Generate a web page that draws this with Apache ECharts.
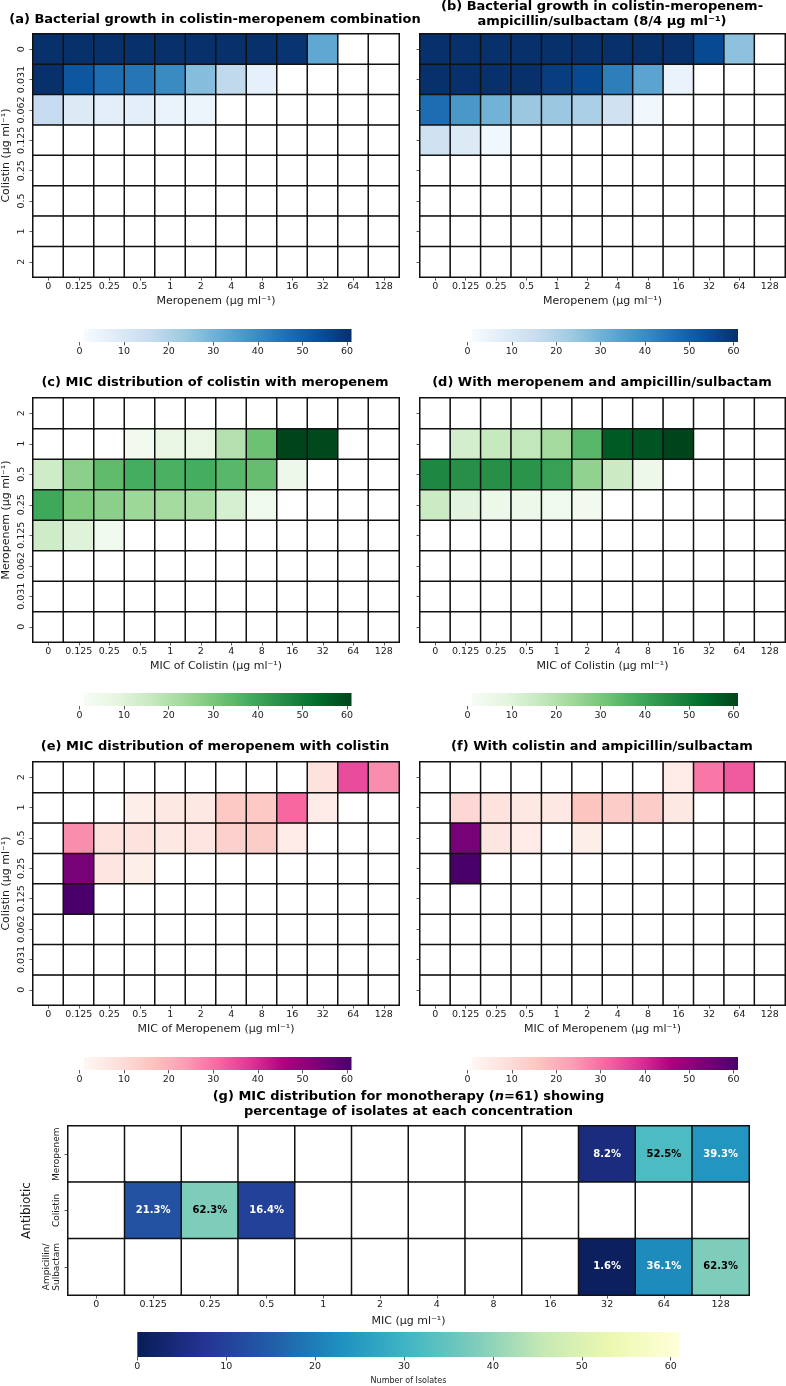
<!DOCTYPE html>
<html>
<head>
<meta charset="utf-8">
<script src="https://cdn.jsdelivr.net/npm/echarts@6/dist/echarts.min.js"></script>
<style>
html,body{margin:0;padding:0;background:#fff;}
#chart{width:786px;height:1386px;}
</style>
</head>
<body>
<div id="chart"></div>
<script>
// ---------------- DATA ----------------
const X_CONC = ['0','0.125','0.25','0.5','1','2','4','8','16','32','64','128'];
const Y_CONC = ['0','0.031','0.062','0.125','0.25','0.5','1','2'];
const ANTIBIOTICS = ['Meropenem','Colistin','Ampicillin/\nSulbactam'];
const CBAR_TICKS = [0,10,20,30,40,50,60];
const N_ISOLATES = 61;

// rows follow Y_CONC order, columns follow X_CONC order
const growthA = [
  [61,61,61,61,61,61,61,61,60,33,0,0],
  [61,52,47,45,40,27,17,6,0,0,0,0],
  [16,9,7,7,5,4,0,0,0,0,0,0],
  [0,0,0,0,0,0,0,0,0,0,0,0],
  [0,0,0,0,0,0,0,0,0,0,0,0],
  [0,0,0,0,0,0,0,0,0,0,0,0],
  [0,0,0,0,0,0,0,0,0,0,0,0],
  [0,0,0,0,0,0,0,0,0,0,0,0]
];
const growthB = [
  [61,61,61,61,61,61,61,61,61,55,26,0],
  [61,61,61,61,58,55,43,34,5,0,0,0],
  [47,37,30,24,24,21,13,3,0,0,0,0],
  [13,9,3,0,0,0,0,0,0,0,0,0],
  [0,0,0,0,0,0,0,0,0,0,0,0],
  [0,0,0,0,0,0,0,0,0,0,0,0],
  [0,0,0,0,0,0,0,0,0,0,0,0],
  [0,0,0,0,0,0,0,0,0,0,0,0]
];
const micColMeroC = [
  [0,0,0,0,0,0,0,0,0,0,0,0],
  [0,0,0,0,0,0,0,0,0,0,0,0],
  [0,0,0,0,0,0,0,0,0,0,0,0],
  [14,10,4,0,0,0,0,0,0,0,0,0],
  [39,29,27,24,23,21,12,4,0,0,0,0],
  [14,27,34,38,37,38,35,33,5,0,0,0],
  [0,0,0,3,7,7,20,32,61,60,0,0],
  [0,0,0,0,0,0,0,0,0,0,0,0]
];
const micColMeroAmpD = [
  [0,0,0,0,0,0,0,0,0,0,0,0],
  [0,0,0,0,0,0,0,0,0,0,0,0],
  [0,0,0,0,0,0,0,0,0,0,0,0],
  [0,0,0,0,0,0,0,0,0,0,0,0],
  [15,9,5,5,4,3,0,0,0,0,0,0],
  [47,45,45,44,41,26,15,5,0,0,0,0],
  [0,13,16,17,23,35,57,58,61,0,0,0],
  [0,0,0,0,0,0,0,0,0,0,0,0]
];
const micMeroColE = [
  [0,0,0,0,0,0,0,0,0,0,0,0],
  [0,0,0,0,0,0,0,0,0,0,0,0],
  [0,0,0,0,0,0,0,0,0,0,0,0],
  [0,61,0,0,0,0,0,0,0,0,0,0],
  [0,54,7,4,0,0,0,0,0,0,0,0],
  [0,26,8,8,6,7,13,14,5,0,0,0],
  [0,0,0,4,6,6,15,15,31,5,0,0],
  [0,0,0,0,0,0,0,0,0,8,35,26]
];
const micMeroColAmpF = [
  [0,0,0,0,0,0,0,0,0,0,0,0],
  [0,0,0,0,0,0,0,0,0,0,0,0],
  [0,0,0,0,0,0,0,0,0,0,0,0],
  [0,0,0,0,0,0,0,0,0,0,0,0],
  [0,61,0,0,0,0,0,0,0,0,0,0],
  [0,54,7,5,0,4,0,0,0,0,0,0],
  [0,11,8,6,6,16,14,14,6,0,0,0],
  [0,0,0,0,0,0,0,0,5,29,33,0]
];
// rows follow ANTIBIOTICS order
const monoMeropenem = [0,0,0,0,0,0,0,0,0,5,32,24];
const monoColistin  = [0,13,38,10,0,0,0,0,0,0,0,0];
const monoAmpSul    = [0,0,0,0,0,0,0,0,0,1,22,38];

// ---------------- STYLE ----------------
const BLUES = ['#f7fbff','#deebf7','#c6dbef','#9ecae1','#6baed6','#4292c6','#2171b5','#08519c','#08306b'];
const GREENS = ['#f7fcf5','#e5f5e0','#c7e9c0','#a1d99b','#74c476','#41ab5d','#238b45','#006d2c','#00441b'];
const RDPU = ['#fff7f3','#fde0dd','#fcc5c0','#fa9fb5','#f768a1','#dd3497','#ae017e','#7a0177','#49006a'];
const YLGNBU_R = ['#081d58','#253494','#225ea8','#1d91c0','#41b6c4','#7fcdbb','#c7e9b4','#edf8b1','#ffffd9'];

const FONT = 'DejaVu Sans';
const TXT = '#1a1a1a';
const TICK_FS = 9.5;
const NAME_FS = 11;

function toCells(mat){
  const out = [];
  mat.forEach((row, r) => row.forEach((v, c) => out.push([c, r, v])));
  return out;
}

const panels = [
  {grid:{left:33, top:34, width:366, height:243}, data:growthA, cmap:BLUES, inverse:true, yLabels:true, yName:'Colistin (µg ml⁻¹)', xName:'Meropenem (µg ml⁻¹)', cbar:{left:79.5, top:329}},
  {grid:{left:420, top:34, width:365, height:243}, data:growthB, cmap:BLUES, inverse:true, yLabels:false, yName:'', xName:'Meropenem (µg ml⁻¹)', cbar:{left:467.5, top:329}},
  {grid:{left:33, top:398, width:366, height:244}, data:micColMeroC, cmap:GREENS, inverse:false, yLabels:true, yName:'Meropenem (µg ml⁻¹)', xName:'MIC of Colistin (µg ml⁻¹)', cbar:{left:79.5, top:693}},
  {grid:{left:420, top:398, width:365, height:244}, data:micColMeroAmpD, cmap:GREENS, inverse:false, yLabels:false, yName:'', xName:'MIC of Colistin (µg ml⁻¹)', cbar:{left:467.5, top:693}},
  {grid:{left:33, top:762, width:366, height:243}, data:micMeroColE, cmap:RDPU, inverse:false, yLabels:true, yName:'Colistin (µg ml⁻¹)', xName:'MIC of Meropenem (µg ml⁻¹)', cbar:{left:79.5, top:1057}},
  {grid:{left:420, top:762, width:365, height:243}, data:micMeroColAmpF, cmap:RDPU, inverse:false, yLabels:false, yName:'', xName:'MIC of Meropenem (µg ml⁻¹)', cbar:{left:467.5, top:1057}}
];

const grids = [], xAxes = [], yAxes = [], series = [], visualMaps = [];

function heatAxes(p, xCats, yCats){
  const idx = grids.length;
  grids.push(Object.assign({containLabel:false}, p.grid));
  xAxes.push({
    type:'category', gridIndex:idx, data:xCats, position:'bottom',
    axisLine:{show:false}, splitLine:{show:false},
    axisTick:{show:true, interval:0, alignWithLabel:true, length:3.5, lineStyle:{color:'#333', width:0.8}},
    axisLabel:{interval:0, fontFamily:FONT, fontSize:TICK_FS, color:TXT, margin:5},
    name:p.xName, nameLocation:'middle', nameGap:p.xGap || 19,
    nameTextStyle:{fontFamily:FONT, fontSize:NAME_FS, color:TXT}
  });
  yAxes.push({
    type:'category', gridIndex:idx, data:yCats, inverse:p.inverse,
    axisLine:{show:false}, splitLine:{show:false},
    axisTick:{show:true, interval:0, alignWithLabel:true, length:3.5, lineStyle:{color:'#333', width:0.8}},
    axisLabel:{show:p.yLabels, interval:0, rotate:90, fontFamily:FONT, fontSize:p.yTickFs || TICK_FS, color:TXT, margin:p.yMargin || 6, lineHeight:10.5, align:'center', verticalAlign:'bottom'},
    name:p.yName, nameLocation:'middle', nameGap:p.yGap || 21, nameRotate:90,
    nameTextStyle:{fontFamily:FONT, fontSize:p.yNameSize || NAME_FS, color:TXT}
  });
  return idx;
}

panels.forEach((p, i) => {
  const idx = heatAxes(p, X_CONC, Y_CONC);
  series.push({
    type:'heatmap', xAxisIndex:idx, yAxisIndex:idx, data:toCells(p.data),
    itemStyle:{borderColor:'#111', borderWidth:1.5},
    emphasis:{disabled:true}, silent:true
  });
  // zero counts are masked (drawn white)
  visualMaps.push({type:'continuous', show:false, seriesIndex:series.length-1, dimension:2,
    min:1, max:61, range:[1.001, 61], inRange:{color:p.cmap}, outOfRange:{color:'#ffffff'}});
});

// panel g
const pg = {grid:{left:68, top:1126, width:681, height:169}, inverse:true, yLabels:true,
  yName:'Antibiotic', xName:'MIC (µg ml⁻¹)', xGap:21, yGap:33, yMargin:6, yNameSize:12, yTickFs:9};
const gIdx = heatAxes(pg, X_CONC, ANTIBIOTICS);
series.push({
  type:'heatmap', xAxisIndex:gIdx, yAxisIndex:gIdx,
  data:toCells([monoMeropenem, monoColistin, monoAmpSul]).map(d => ({
    value:d, label:{color: d[2] >= 28 ? '#000' : '#fff'}
  })),
  itemStyle:{borderColor:'#111', borderWidth:1.5},
  label:{show:true, fontFamily:FONT, fontSize:10, fontWeight:'bold',
    formatter:(pp) => pp.value[2] > 0 ? (100*pp.value[2]/N_ISOLATES).toFixed(1) + '%' : ''},
  emphasis:{disabled:true}, silent:true
});
visualMaps.push({type:'continuous', show:false, seriesIndex:series.length-1, dimension:2,
  min:0, max:61, range:[0.5,61], inRange:{color:YLGNBU_R}, outOfRange:{color:'#ffffff'}});

// ---------------- COLORBARS ----------------
function colorbar(left, top, width, height, vmin, vmax, cmap, name){
  const idx = grids.length;
  grids.push({left:left, top:top, width:width, height:height, containLabel:false});
  xAxes.push({
    type:'value', gridIndex:idx, min:0, max:61,
    axisLine:{show:false}, splitLine:{show:false},
    axisTick:{show:true, customValues:CBAR_TICKS, length:3.5, lineStyle:{color:'#333', width:0.8}},
    axisLabel:{customValues:CBAR_TICKS, fontFamily:FONT, fontSize:TICK_FS, color:TXT, margin:5},
    name:name || '', nameLocation:'middle', nameGap:20,
    nameTextStyle:{fontFamily:FONT, fontSize:8, color:TXT}
  });
  yAxes.push({type:'value', gridIndex:idx, min:0, max:1, show:false});
  const stops = cmap.map((c, k) => ({offset:k/(cmap.length-1), color:c}));
  series.push({
    type:'custom', xAxisIndex:idx, yAxisIndex:idx, silent:true,
    data:[[vmin, vmax]],
    encode:{x:[0,1]},
    renderItem:(params, api) => {
      const p0 = api.coord([api.value(0), 0]);
      const p1 = api.coord([api.value(1), 1]);
      return {type:'rect', shape:{x:p0[0], y:p1[1], width:p1[0]-p0[0], height:p0[1]-p1[1]},
        style:{fill:new echarts.graphic.LinearGradient(0,0,1,0, stops)}};
    }
  });
}
panels.forEach(p => colorbar(p.cbar.left, p.cbar.top, p.cbar.left < 200 ? 272 : 270.5, 13, 1, 61, p.cmap));
colorbar(137.3, 1332, 542.3, 27, 0, 61, YLGNBU_R, 'Number of Isolates');

// ---------------- TITLES ----------------
const titleFont = 'bold 13px "DejaVu Sans"';
function title(x, y, text){
  return {type:'text', x:x, y:y, silent:true,
    style:{text:text, font:titleFont, fill:'#000', align:'center', verticalAlign:'middle', lineHeight:15.5,
      rich:{i:{font:'italic bold 13px "DejaVu Sans"', fill:'#000'}}}};
}
const graphics = [
  title(215, 20, '(a) Bacterial growth in colistin-meropenem combination'),
  title(602, 14, '(b) Bacterial growth in colistin-meropenem-\nampicillin/sulbactam (8/4 µg ml⁻¹)'),
  title(215, 383, '(c) MIC distribution of colistin with meropenem'),
  title(602, 383, '(d) With meropenem and ampicillin/sulbactam'),
  title(215, 747, '(e) MIC distribution of meropenem with colistin'),
  title(602, 747, '(f) With colistin and ampicillin/sulbactam'),
  title(408.5, 1104, '(g) MIC distribution for monotherapy ({i|n}=61) showing\npercentage of isolates at each concentration')
];

const chart = echarts.init(document.getElementById('chart'), null, {renderer:'canvas'});
chart.setOption({
  animation:false,
  backgroundColor:'#fff',
  grid:grids, xAxis:xAxes, yAxis:yAxes, visualMap:visualMaps, series:series,
  graphic:graphics
});
</script>
</body>
</html>
